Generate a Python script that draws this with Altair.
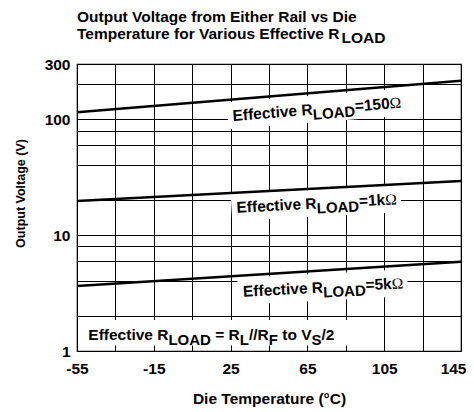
import altair as alt
import pandas as pd

# ---------------- data ----------------
temps = [-55, 145]
v_150 = [115, 215]
v_1k = [19.7, 29.3]
v_5k = [3.64, 5.9]

x_grid = [-55, -35, -15, 5, 25, 45, 65, 85, 105, 125, 145]
x_labels = [-55, -15, 25, 65, 105, 145]
y_grid = [1, 2, 4, 6, 8, 10, 20, 40, 60, 80, 100, 200, 300]
y_labels = [1, 10, 100, 300]

# curve labels: anchor (temperature, voltage), rotation, suffix
lab_temp = [26.25, 28.2, 31.6]
lab_volt = [96.7, 15.6, 2.94]
lab_angle = [355.5, 357, 357]
lab_suffix = ["=150", "=1k", "=5k"]

note_temp = -49.1
note_volt = 1.244

title1 = "Output Voltage from Either Rail vs Die"
title2 = "Temperature for Various Effective R"

# ---------------- helpers ----------------
FONT = "Liberation Sans"
MAIN = 15.5
SUB = 15
AW = {' ': 278, '(': 333, ')': 333, '/': 278, '=': 584, '°': 400,
      'A': 722, 'C': 722, 'D': 722, 'E': 667, 'F': 611, 'L': 611, 'O': 778,
      'R': 722, 'S': 667, 'T': 611, 'V': 667,
      'a': 556, 'c': 556, 'e': 556, 'f': 333, 'h': 611, 'i': 278, 'k': 556,
      'l': 278, 'm': 889, 'o': 611, 'p': 611, 'r': 389, 's': 556, 't': 333,
      'u': 611, 'v': 556}
for d in "0123456789":
    AW[d] = 556


def width(s, size, kind):
    if kind == "omega":
        return 0.768 * size * len(s)
    return sum(AW.get(c, 556) for c in s) / 1000 * size


xs = alt.Scale(domain=[-55, 145], nice=False, zero=False)
ys = alt.Scale(type="log", domain=[1, 300], nice=False)
x_lab_expr = "indexof(%s, datum.value) >= 0 ? '' + datum.value : ''" % str(x_labels)
y_lab_expr = "indexof(%s, datum.value) >= 0 ? '' + datum.value : ''" % str(y_labels)
last_x = x_labels[-1]

X = alt.X("temp:Q", scale=xs, axis=alt.Axis(
    values=x_grid, labelExpr=x_lab_expr, title="Die Temperature (°C)",
    grid=True, ticks=False, tickSize=0, domain=False,
    labelFlush=False, labelOverlap=False, labelBound=False,
    labelAlign={"condition": {"test": "datum.value == %d" % last_x, "value": "right"},
                "value": "center"},
    labelOffset={"condition": {"test": "datum.value == %d" % last_x, "value": 5},
                 "value": 0},
    labelBaseline="alphabetic", labelPadding=22,
    labelFont=FONT, labelFontSize=MAIN, labelFontWeight="bold", labelColor="black",
    titleFont=FONT, titleFontSize=MAIN, titleFontWeight="bold", titleColor="black",
    titleBaseline="alphabetic", titleX=192, titleY=52, titleAlign="center"))
Y = alt.Y("volt:Q", scale=ys, axis=alt.Axis(
    values=y_grid, labelExpr=y_lab_expr, title="Output Voltage (V)",
    grid=True, ticks=False, tickSize=0, domain=False,
    labelFlush=False, labelOverlap=False, labelBound=False,
    labelBaseline="middle", labelPadding=7,
    labelFont=FONT, labelFontSize=MAIN, labelFontWeight="bold", labelColor="black",
    titleFont=FONT, titleFontSize=12.5, titleFontWeight="bold", titleColor="black",
    titleAngle=270, titleBaseline="alphabetic", titleAlign="center",
    titleX=-53, titleY=129))


def pieces(df, segments, angle, drop, xy=None):
    """Build text layers for a label made of normal / subscript runs."""
    layers = []
    off = 0.0
    for text, kind in segments:
        size = SUB if kind == "sub" else MAIN
        lead = len(text) - len(text.lstrip(" "))
        off += lead * 0.278 * MAIN
        t = text.strip(" ")
        trail = len(text) - len(text.rstrip(" ")) if text.strip(" ") else 0
        font = "Liberation Serif" if kind == "omega" else FONT
        weight = "normal" if kind == "omega" else "bold"
        dy = drop if kind in ("sub", "tsub") else 0
        m = alt.Chart(df).mark_text(
            align="left", baseline="alphabetic", dx=off, dy=dy,
            angle=angle, font=font, fontSize=size, fontWeight=weight, color="black")
        if xy is None:
            layers.append(m.encode(x=X, y=Y, text=alt.value(t)))
        else:
            layers.append(m.encode(x=alt.value(xy[0]), y=alt.value(xy[1]), text=alt.value(t)))
        off += width(t, size, kind) + trail * 0.278 * MAIN
    return layers, off


def box(df, x0, x1, y0, y1, angle):
    u = 100.0
    path = "M{a},{c}L{b},{c}L{b},{d}L{a},{d}Z".format(
        a=round(x0 / u, 4), b=round(x1 / u, 4), c=round(y0 / u, 4), d=round(y1 / u, 4))
    return alt.Chart(df).mark_point(
        shape=path, size=(2 * u) ** 2, filled=True, fill="white", color="white",
        opacity=1, fillOpacity=1, strokeWidth=0, angle=angle).encode(x=X, y=Y)


# ---------------- layers ----------------
lines_df = pd.DataFrame({
    "temp": temps * 3,
    "volt": v_150 + v_1k + v_5k,
    "series": ["150"] * 2 + ["1k"] * 2 + ["5k"] * 2,
})

box_layers = []
text_layers = []
for i in range(3):
    df = pd.DataFrame({"temp": [lab_temp[i]], "volt": [lab_volt[i]]})
    segs = [("Effective R", "main"), ("LOAD", "sub"), (lab_suffix[i], "main"), ("Ω", "omega")]
    tl, w = pieces(df, segs, lab_angle[i], 5)
    text_layers += tl
    box_layers.append(box(df, -5, w + 4, -19, 8, lab_angle[i]))

note_df = pd.DataFrame({"temp": [note_temp], "volt": [note_volt]})
note_segs = [("Effective R", "main"), ("LOAD", "sub"), (" = R", "main"), ("L", "sub"),
             ("//R", "main"), ("F", "sub"), (" to V", "main"), ("S", "sub"), ("/2", "main")]
tl, w = pieces(note_df, note_segs, 0, 5)
text_layers += tl
box_layers.append(box(note_df, -9, w + 31, -20, 5.5, 0))

one = pd.DataFrame({"a": [0]})
t1, _ = pieces(one, [(title1, "main")], 0, 0, xy=(0, -42))
t2, _ = pieces(one, [(title2, "main"), ("LOAD", "tsub")], 0, 4, xy=(0, -25))

line_layer = alt.Chart(lines_df).mark_line(color="black", strokeWidth=2.6).encode(
    x=X, y=Y, detail="series:N")

chart = alt.layer(*box_layers, line_layer, *text_layers, *t1, *t2).properties(
    width=384, height=287,
    padding={"left": 69, "top": 56, "right": 5, "bottom": 58},
    autosize="none",
    background="white",
).configure_view(stroke="black", strokeWidth=1.2).configure_axis(
    gridColor="black", gridOpacity=1, gridWidth=1)

chart.save("out.html", embed_options={"renderer": "svg", "actions": False})
